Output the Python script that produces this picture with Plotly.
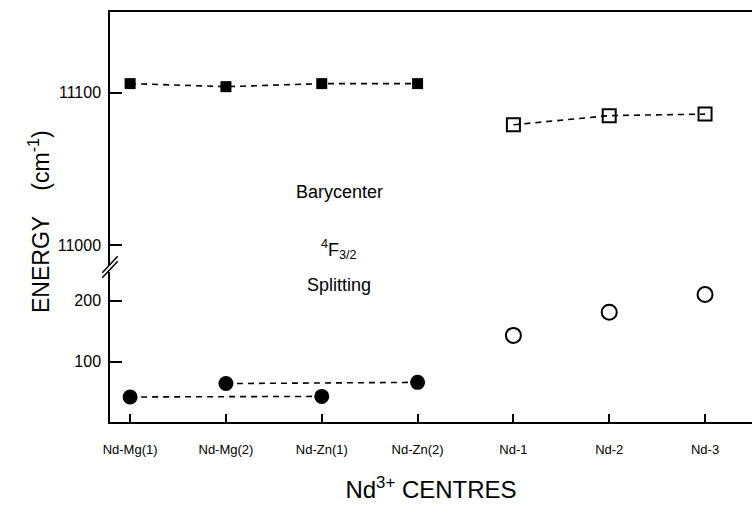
import plotly.graph_objects as go

centres = ["Nd-Mg(1)", "Nd-Mg(2)", "Nd-Zn(1)", "Nd-Zn(2)", "Nd-1", "Nd-2", "Nd-3"]

# Barycenter of 4F3/2 (cm-1)
bary_mgzn_x = ["Nd-Mg(1)", "Nd-Mg(2)", "Nd-Zn(1)", "Nd-Zn(2)"]
bary_mgzn_y = [11106, 11104, 11106, 11106]
bary_nd_x = ["Nd-1", "Nd-2", "Nd-3"]
bary_nd_y = [11079, 11085, 11086]

# Splitting of 4F3/2 (cm-1)
split_a_x = ["Nd-Mg(1)", "Nd-Zn(1)"]
split_a_y = [42, 43]
split_b_x = ["Nd-Mg(2)", "Nd-Zn(2)"]
split_b_y = [64, 66]
split_nd_x = ["Nd-1", "Nd-2", "Nd-3"]
split_nd_y = [143, 181, 210]

FONT = "Liberation Sans"
fig = go.Figure()

dash = dict(color="black", width=1.6, dash="6px,5px")

fig.add_trace(go.Scatter(x=bary_mgzn_x, y=bary_mgzn_y, mode="lines+markers",
                         line=dash, marker=dict(symbol="square", size=11, color="black"),
                         xaxis="x2", yaxis="y2", showlegend=False))
fig.add_trace(go.Scatter(x=bary_nd_x, y=bary_nd_y, mode="lines+markers",
                         line=dash, marker=dict(symbol="square-open", size=13, color="black",
                                                line=dict(width=2)),
                         xaxis="x2", yaxis="y2", showlegend=False))
fig.add_trace(go.Scatter(x=split_a_x, y=split_a_y, mode="lines+markers",
                         line=dash, marker=dict(symbol="circle", size=15, color="black"),
                         xaxis="x", yaxis="y", showlegend=False))
fig.add_trace(go.Scatter(x=split_b_x, y=split_b_y, mode="lines+markers",
                         line=dash, marker=dict(symbol="circle", size=15, color="black"),
                         xaxis="x", yaxis="y", showlegend=False))
fig.add_trace(go.Scatter(x=split_nd_x, y=split_nd_y, mode="markers",
                         marker=dict(symbol="circle-open", size=15, color="black",
                                     line=dict(width=2)),
                         xaxis="x", yaxis="y", showlegend=False))

xr = [-0.21, 6.49]
fig.update_layout(
    width=752, height=512,
    margin=dict(l=110, r=0, t=12, b=90),
    paper_bgcolor="white", plot_bgcolor="white",
    font=dict(family=FONT, color="black"),
    xaxis=dict(type="category", categoryorder="array", categoryarray=centres,
               range=xr, domain=[0, 1], anchor="y",
               showline=True, linecolor="black", linewidth=2,
               ticks="inside", ticklen=8, tickwidth=1.5, tickcolor="black",
               showgrid=False, zeroline=False,
               tickfont=dict(size=13, family=FONT), ticklabelstandoff=14,
               title=dict(text="Nd<sup>3+</sup> CENTRES", font=dict(size=24, family=FONT),
                          standoff=26)),
    xaxis2=dict(type="category", categoryorder="array", categoryarray=centres,
                range=xr, domain=[0, 1], anchor="y2", matches="x", side="top",
                showline=True, linecolor="black", linewidth=2,
                ticks="", showticklabels=False, showgrid=False, zeroline=False),
    yaxis=dict(domain=[0, 0.366], range=[1, 247], anchor="x",
               tickvals=[100, 200], ticktext=["100", "200"],
               showline=True, linecolor="black", linewidth=1.5,
               ticks="inside", ticklen=12, tickwidth=1.5, tickcolor="black",
               showgrid=False, zeroline=False,
               tickfont=dict(size=16, family=FONT), ticklabelstandoff=4),
    yaxis2=dict(domain=[0.383, 1], range=[10987, 11153], anchor="x2",
                tickvals=[11000, 11100], ticktext=["11000", "11100"],
                showline=True, linecolor="black", linewidth=1.5,
                ticks="inside", ticklen=12, tickwidth=1.5, tickcolor="black",
                showgrid=False, zeroline=False,
                tickfont=dict(size=16, family=FONT), ticklabelstandoff=4),
)

# axis break marks
for dy in (0.0, 0.012):
    fig.add_shape(type="line", xref="paper", yref="paper",
                  x0=-0.012, x1=0.012, y0=0.352 + dy, y1=0.392 + dy,
                  line=dict(color="black", width=1.5))

ann = dict(xref="paper", yref="paper", showarrow=False,
           font=dict(size=18, family=FONT, color="black"))
fig.add_annotation(x=0.357, y=0.56, text="Barycenter", **ann)
fig.add_annotation(x=0.357, y=0.42, text="<sup>4</sup>F<sub>3/2</sub>", **ann)
fig.add_annotation(x=0.357, y=0.335, text="Splitting", **ann)
fig.add_annotation(x=-0.137, y=0.488, text="ENERGY    (cm<sup>-1</sup>)", textangle=-90,
                   xref="paper", yref="paper", showarrow=False,
                   font=dict(size=23, family=FONT, color="black"))

fig.write_html("out.html")
